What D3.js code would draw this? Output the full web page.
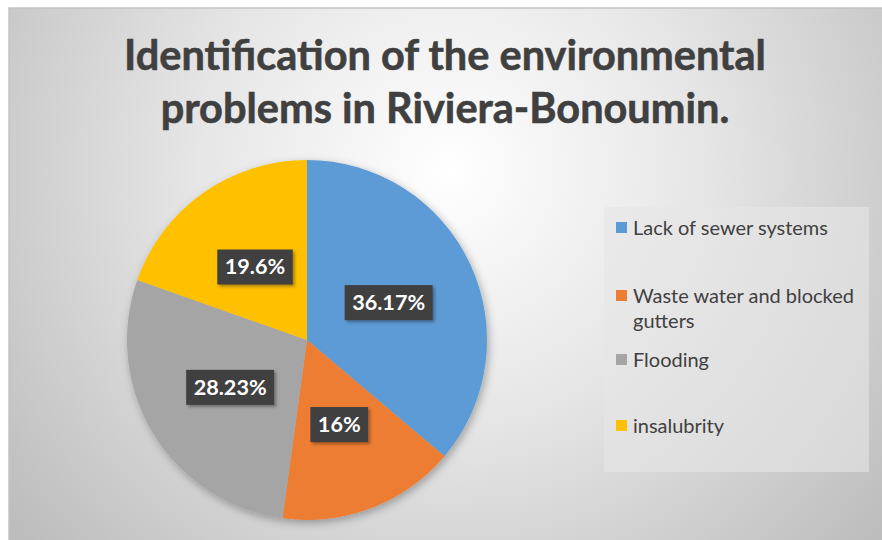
<!DOCTYPE html>
<html>
<head>
<meta charset="utf-8">
<script src="https://cdn.jsdelivr.net/npm/d3@7"></script>
<style>
  body { margin: 0; background: #fff; }
  svg { display: block; }
</style>
</head>
<body>
<div id="chart"></div>
<script>
// Chart data
var categories = ["Lack of sewer systems", "Waste water and blocked gutters", "Flooding", "insalubrity"];
var values = [36.17, 16, 28.23, 19.6];
var valueLabels = ["36.17%", "16%", "28.23%", "19.6%"];
var colors = ["#5b9bd5", "#ed7d31", "#a5a5a5", "#ffc000"];
var titleLines = ["Identification of the environmental", "problems in Riviera-Bonoumin."];

var svgWidth = 882;
var svgHeight = 540;
var fontFamily = "Lato, 'Open Sans', sans-serif";

var svg = d3.select("#chart")
    .append("svg")
    .attr("width", svgWidth)
    .attr("height", svgHeight);

var defs = svg.append("defs");

// background gradient, light in the middle, gray at the edges
var bg = defs.append("radialGradient")
    .attr("id", "bg")
    .attr("gradientUnits", "userSpaceOnUse")
    .attr("cx", 450).attr("cy", 170).attr("r", 560);
bg.append("stop").attr("offset", "0%").attr("stop-color", "#ffffff");
bg.append("stop").attr("offset", "45%").attr("stop-color", "#e6e6e6");
bg.append("stop").attr("offset", "100%").attr("stop-color", "#bdbdbd");

var shadow = defs.append("filter").attr("id", "shadow")
    .attr("x", "-20%").attr("y", "-20%").attr("width", "140%").attr("height", "140%");
shadow.append("feDropShadow")
    .attr("dx", 2).attr("dy", 3).attr("stdDeviation", 4)
    .attr("flood-color", "#000").attr("flood-opacity", 0.3);

var boxShadow = defs.append("filter").attr("id", "boxShadow")
    .attr("x", "-20%").attr("y", "-30%").attr("width", "140%").attr("height", "160%");
boxShadow.append("feDropShadow")
    .attr("dx", 2).attr("dy", 2).attr("stdDeviation", 1.5)
    .attr("flood-color", "#000").attr("flood-opacity", 0.35);

// chart area
svg.append("rect")
    .attr("x", 9).attr("y", 8)
    .attr("width", svgWidth).attr("height", svgHeight)
    .attr("fill", "url(#bg)")
    .attr("stroke", "#c4c4c4")
    .attr("stroke-width", 1.5);

// scale a font size so a text reaches the width seen in the picture
function fitSize(sel, size, target) {
    sel.attr("font-size", size);
    var w = sel.node().getComputedTextLength();
    return size * target / w;
}

// Title
var title = svg.append("g")
    .attr("font-family", fontFamily)
    .attr("font-weight", "bold")
    .attr("fill", "#404040")
    .attr("text-anchor", "middle");

title.selectAll("text")
    .data(titleLines)
    .enter().append("text")
    .attr("x", 445)
    .attr("y", (d, i) => 70 + i * 53)
    .attr("stroke", "#404040")
    .attr("stroke-width", 0.6)
    .text(d => d);

var fs = fitSize(title.select("text"), 39, 642);
title.selectAll("text").attr("font-size", fs);

// Pie
var radius = 180;
var pieGroup = svg.append("g")
    .attr("transform", "translate(307, 340)");

var pie = d3.pie().sort(null).value(d => d);
var arc = d3.arc().innerRadius(0).outerRadius(radius);
var labelArc = d3.arc().innerRadius(radius * 0.5).outerRadius(radius * 0.5);

var arcs = pie(values);

pieGroup.append("g")
    .attr("filter", "url(#shadow)")
    .selectAll("path")
    .data(arcs)
    .enter().append("path")
    .attr("d", arc)
    .attr("fill", (d, i) => colors[i]);

// data label font size, "36.17%" is about 73px wide
var probe = svg.append("text").attr("font-family", fontFamily).attr("font-weight", "bold").text(valueLabels[0]);
var labelSize = fitSize(probe, 20, 73);
probe.remove();

// data labels in dark boxes
var labels = pieGroup.selectAll(".lbl")
    .data(arcs)
    .enter().append("g")
    .attr("class", "lbl")
    .attr("transform", d => "translate(" + labelArc.centroid(d) + ")");

labels.each(function(d, i) {
    var g = d3.select(this);
    var rect = g.append("rect").attr("fill", "#404040").attr("filter", "url(#boxShadow)");
    var t = g.append("text")
        .attr("text-anchor", "middle")
        .attr("dy", "0.36em")
        .attr("font-family", fontFamily)
        .attr("font-weight", "bold")
        .attr("font-size", labelSize)
        .attr("fill", "#ffffff")
        .text(valueLabels[i]);
    var w = t.node().getComputedTextLength() + 15;
    rect.attr("x", -w / 2).attr("y", -17).attr("width", w).attr("height", 35);
});

// Legend
var legend = svg.append("g");
legend.append("rect")
    .attr("x", 604).attr("y", 207)
    .attr("width", 265).attr("height", 265)
    .attr("fill", "#e6e6e6")
    .attr("opacity", 0.6);

var probe2 = svg.append("text").attr("font-family", fontFamily).text(categories[0]);
var legendSize = fitSize(probe2, 18, 195);
probe2.remove();

var legendY = [228, 296, 360, 426];
var items = legend.selectAll(".item")
    .data(categories)
    .enter().append("g")
    .attr("class", "item")
    .attr("transform", (d, i) => "translate(616," + legendY[i] + ")");

items.append("rect")
    .attr("x", 0).attr("y", -6)
    .attr("width", 11).attr("height", 11)
    .attr("fill", (d, i) => colors[i]);

items.append("text")
    .attr("x", 17)
    .attr("dy", "0.35em")
    .attr("font-family", fontFamily)
    .attr("font-size", legendSize)
    .attr("fill", "#404040")
    .each(function(d) {
        // wrap long names onto a second line
        var el = d3.select(this);
        var words = d.split(" ");
        var line = [];
        var tspan = el.append("tspan").attr("x", 17);
        words.forEach(function(w) {
            line.push(w);
            tspan.text(line.join(" "));
            if (tspan.node().getComputedTextLength() > 236 && line.length > 1) {
                line.pop();
                tspan.text(line.join(" "));
                line = [w];
                tspan = el.append("tspan").attr("x", 17).attr("dy", 25).text(w);
            }
        });
    });
</script>
</body>
</html>
